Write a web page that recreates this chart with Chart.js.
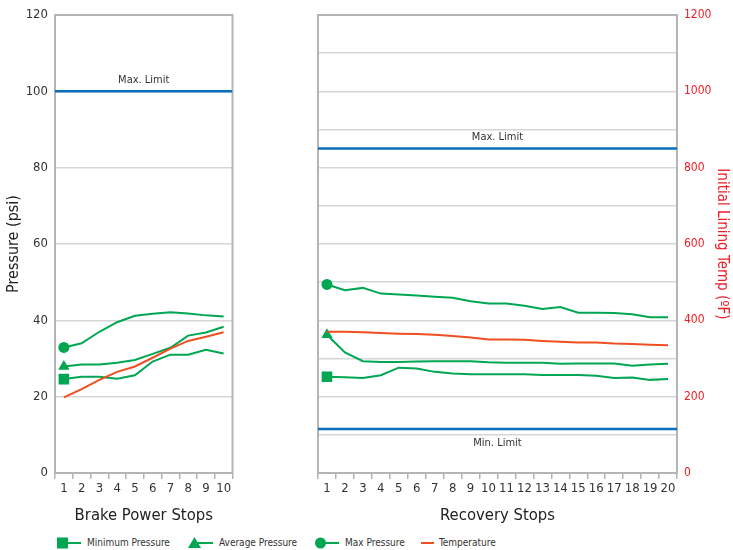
<!DOCTYPE html>
<html>
<head>
<meta charset="utf-8">
<script src="https://cdn.jsdelivr.net/npm/chart.js@4.4.1/dist/chart.umd.min.js"></script>
<style>
  html, body { margin:0; padding:0; background:#fff; }
  body { width:733px; height:550px; position:relative; overflow:hidden;
         font-family:'Liberation Sans Narrow','DejaVu Sans Condensed','Arial Narrow',sans-serif; }
  canvas { position:absolute; top:0; }
  .lg { position:absolute; top:535px; height:16px; font-size:10px; color:#333; line-height:16px; white-space:nowrap; }
  .lg svg { position:absolute; top:0; left:0; }
  .lg span { position:absolute; top:0; }
</style>
</head>
<body>
<canvas id="left" width="240" height="530" style="left:0px"></canvas>
<canvas id="right" width="433" height="530" style="left:300px"></canvas>

<div class="lg" style="left:56px;width:120px">
  <svg width="28" height="16"><line x1="6" y1="8" x2="25" y2="8" stroke="#00a651" stroke-width="2"/><rect x="1" y="2.5" width="11" height="11" fill="#00a651"/></svg>
  <span style="left:31px">Minimum Pressure</span>
</div>
<div class="lg" style="left:187px;width:120px">
  <svg width="28" height="16"><line x1="6" y1="8" x2="26" y2="8" stroke="#00a651" stroke-width="2"/><polygon points="1,13 14,13 7.5,2" fill="#00a651"/></svg>
  <span style="left:32px">Average Pressure</span>
</div>
<div class="lg" style="left:314px;width:100px">
  <svg width="28" height="16"><line x1="6" y1="8" x2="25" y2="8" stroke="#00a651" stroke-width="2"/><circle cx="6.5" cy="8" r="5.5" fill="#00a651"/></svg>
  <span style="left:31px">Max Pressure</span>
</div>
<div class="lg" style="left:421px;width:90px">
  <svg width="16" height="16"><line x1="0" y1="8" x2="13" y2="8" stroke="#f04e23" stroke-width="2"/></svg>
  <span style="left:18px">Temperature</span>
</div>

<script>
// ---------- data ----------
const leftStops  = ['1','2','3','4','5','6','7','8','9','10'];
const rightStops = ['1','2','3','4','5','6','7','8','9','10','11','12','13','14','15','16','17','18','19','20'];

const leftMinPressure = [24.6, 25.2, 25.2, 24.7, 25.6, 29.2, 31.0, 31.0, 32.3, 31.3];
const leftAvgPressure = [27.9, 28.4, 28.4, 28.9, 29.6, 31.2, 32.8, 36.0, 36.8, 38.3];
const leftMaxPressure = [32.9, 34.0, 37.0, 39.5, 41.2, 41.7, 42.1, 41.8, 41.3, 41.0];
const leftTemperature = [198, 220, 244, 265, 279, 302, 326, 346, 357, 369];

const rightMinPressure = [25.2, 25.1, 24.9, 25.6, 27.6, 27.4, 26.5, 26.1, 25.9, 25.9, 25.9, 25.9, 25.7, 25.7, 25.7, 25.5, 24.9, 25.0, 24.4, 24.6];
const rightAvgPressure = [36.2, 31.6, 29.3, 29.1, 29.1, 29.2, 29.3, 29.3, 29.3, 29.0, 28.9, 28.9, 28.9, 28.6, 28.7, 28.7, 28.7, 28.1, 28.4, 28.6];
const rightMaxPressure = [49.4, 47.9, 48.5, 47.0, 46.8, 46.5, 46.2, 45.9, 45.0, 44.4, 44.4, 43.8, 43.0, 43.5, 42.0, 42.0, 41.9, 41.6, 40.8, 40.8];
const rightTemperature = [370, 370, 369, 367, 365, 364, 362, 359, 355, 350, 350, 349, 346, 344, 342, 342, 339, 338, 336, 335];

const pressureRange = [0, 120];
const tempRange = [0, 1200];
const leftLimits  = [{ value: 100, text: 'Max. Limit', side: 'above' }];
const rightLimits = [{ value: 85, text: 'Max. Limit', side: 'above' },
                     { value: 11.5, text: 'Min. Limit', side: 'below' }];

// ---------- style ----------
const FONT = "'Liberation Sans Narrow','DejaVu Sans Condensed','Arial Narrow',sans-serif";
const GREEN = '#00a651', ORANGE = '#f04e23', BLUE = '#0a6ebd', RED = '#ed1c24';
const FRAME = '#b5b5b5', GRID = '#d6d6d6', TEXT = '#333333';

const framePlugin = {
  id: 'frameAndLimits',
  beforeDatasetsDraw(chart) {
    const { ctx, chartArea: a } = chart;
    ctx.save();
    ctx.strokeStyle = FRAME;
    ctx.lineWidth = 2;
    ctx.strokeRect(a.left, a.top, a.width, a.height);
    ctx.restore();
  },
  afterDatasetsDraw(chart) {
    const { ctx, chartArea: a } = chart;
    const lims = chart.options.plugins.frameAndLimits.limits || [];
    ctx.save();
    ctx.fillStyle = TEXT;
    ctx.font = '11px ' + FONT;
    ctx.textAlign = 'center';
    ctx.textBaseline = 'middle';
    lims.forEach(l => {
      const y = chart.scales.y.getPixelForValue(l.value);
      ctx.fillText(l.text, (a.left + a.right) / 2, l.side === 'above' ? y - 11 : y + 14);
    });
    ctx.restore();
  }
};

function seriesDatasets(minP, avgP, maxP, temp) {
  const first = r => (c => c.dataIndex === 0 ? r : 0);
  const base = { xAxisID: 'x', yAxisID: 'y', borderWidth: 2, tension: 0, pointHoverRadius: 0, pointBorderWidth: 0 };
  return [
    Object.assign({}, base, { label: 'Temperature', data: temp, yAxisID: 'y2', borderColor: ORANGE, backgroundColor: ORANGE, pointRadius: 0 }),
    Object.assign({}, base, { label: 'Minimum Pressure', data: minP, borderColor: GREEN, backgroundColor: GREEN, pointStyle: 'rect', pointRadius: first(7.5) }),
    Object.assign({}, base, { label: 'Average Pressure', data: avgP, borderColor: GREEN, backgroundColor: GREEN, pointStyle: 'triangle', pointRadius: first(6.5) }),
    Object.assign({}, base, { label: 'Max Pressure', data: maxP, borderColor: GREEN, backgroundColor: GREEN, pointStyle: 'circle', pointRadius: first(5.5) })
  ];
}

function limitDatasets(limits) {
  return limits.map(l => ({
    label: l.text, xAxisID: 'xl', yAxisID: 'y',
    data: [{ x: 0, y: l.value }, { x: 1, y: l.value }],
    borderColor: BLUE, borderWidth: 2.5, pointRadius: 0, pointHoverRadius: 0
  }));
}

function xAxis(title) {
  return {
    type: 'category', offset: true,
    grid: { offset: true, drawOnChartArea: false, drawTicks: true, tickLength: 6, color: FRAME, lineWidth: 1.5 },
    border: { display: false },
    ticks: { color: TEXT, font: { family: FONT, size: 13 }, padding: 2, maxRotation: 0, autoSkip: false },
    title: { display: true, text: title, color: '#222', font: { family: FONT, size: 16.5 }, padding: { top: 2 } },
    afterFit(s) { s.height = 57; }
  };
}

function commonOptions() {
  return {
    responsive: false, animation: false,
    events: [],
    plugins: { legend: { display: false }, tooltip: { enabled: false } }
  };
}

const plainNumber = v => String(v);

// ---------- left chart ----------
const leftOpts = commonOptions();
leftOpts.layout = { padding: { left: 0, right: 6, top: 15, bottom: 0 } };
leftOpts.plugins.frameAndLimits = { limits: leftLimits };
leftOpts.scales = {
  x: xAxis('Brake Power Stops'),
  xl: { type: 'linear', display: false, min: 0, max: 1 },
  y: {
    min: pressureRange[0], max: pressureRange[1],
    grid: { color: GRID, lineWidth: 1.5, drawTicks: false },
    border: { display: false },
    ticks: { stepSize: 20, color: TEXT, font: { family: FONT, size: 13 }, padding: 7, callback: plainNumber },
    title: { display: true, text: 'Pressure (psi)', color: '#222', font: { family: FONT, size: 16 }, padding: 4 },
    afterFit(s) { s.width = 55; }
  },
  y2: { display: false, min: tempRange[0], max: tempRange[1] }
};
new Chart(document.getElementById('left'), {
  type: 'line',
  data: { labels: leftStops, datasets: limitDatasets(leftLimits).concat(seriesDatasets(leftMinPressure, leftAvgPressure, leftMaxPressure, leftTemperature)) },
  options: leftOpts,
  plugins: [framePlugin]
});

// ---------- right chart ----------
const rightOpts = commonOptions();
rightOpts.layout = { padding: { left: 0, right: 0, top: 15, bottom: 0 } };
rightOpts.plugins.frameAndLimits = { limits: rightLimits };
rightOpts.scales = {
  x: xAxis('Recovery Stops'),
  xl: { type: 'linear', display: false, min: 0, max: 1 },
  y: {
    min: pressureRange[0], max: pressureRange[1],
    grid: { color: GRID, lineWidth: 1.5, drawTicks: false },
    border: { display: false },
    ticks: { display: false, stepSize: 10 },
    afterFit(s) { s.width = 18; }
  },
  y2: {
    position: 'right', min: tempRange[0], max: tempRange[1],
    grid: { drawOnChartArea: false, drawTicks: false },
    border: { display: false },
    ticks: { stepSize: 200, color: RED, font: { family: FONT, size: 12 }, padding: 7, callback: plainNumber },
    title: { display: true, text: 'Initial Lining Temp (ºF)', color: RED, font: { family: FONT, size: 15 }, padding: 2 },
    afterFit(s) { s.width = 56; }
  }
};
new Chart(document.getElementById('right'), {
  type: 'line',
  data: { labels: rightStops, datasets: limitDatasets(rightLimits).concat(seriesDatasets(rightMinPressure, rightAvgPressure, rightMaxPressure, rightTemperature)) },
  options: rightOpts,
  plugins: [framePlugin]
});
</script>
</body>
</html>
